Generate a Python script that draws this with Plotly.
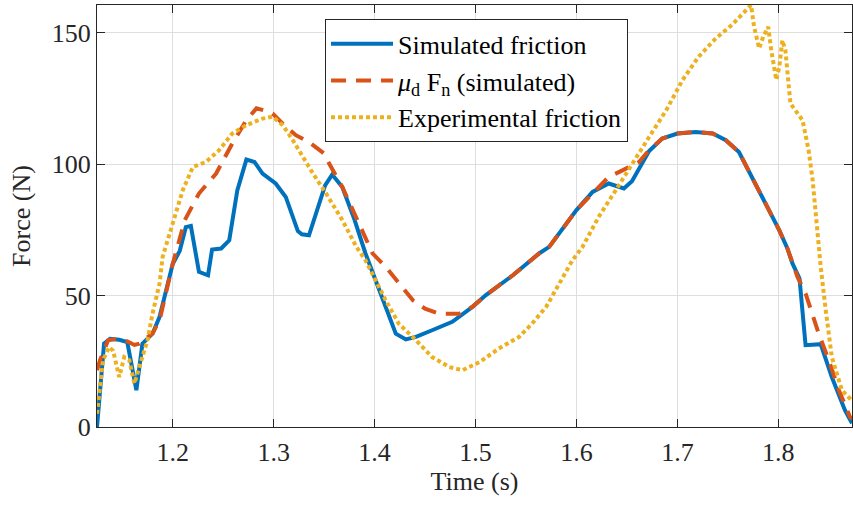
import plotly.graph_objects as go

# Simulated friction
t_sim = [1.125, 1.132, 1.138, 1.147, 1.155, 1.164, 1.170, 1.180, 1.187, 1.193, 1.200, 1.207,
         1.213, 1.218, 1.226, 1.235, 1.239, 1.248, 1.256, 1.264, 1.273, 1.281, 1.289, 1.302,
         1.312, 1.324, 1.328, 1.335, 1.343, 1.351, 1.358, 1.368, 1.380, 1.391, 1.401, 1.421,
         1.431, 1.441, 1.457, 1.477, 1.497, 1.510, 1.537, 1.563, 1.573, 1.600, 1.616, 1.632,
         1.647, 1.655, 1.672, 1.685, 1.700, 1.718, 1.735, 1.748, 1.761, 1.774, 1.788, 1.801,
         1.809, 1.814, 1.821, 1.827, 1.842, 1.853, 1.866, 1.873]
f_sim = [0, 31.7, 33.5, 33.2, 32.3, 14, 31.7, 35.5, 41.9, 50.8, 62, 67,
         76, 76.5, 59, 57.7, 67.5, 67.9, 71, 90, 101.7, 100.8, 96.4, 92.6,
         87.5, 74.5, 73.3, 72.9, 82.4, 91.9, 96, 91.3, 79, 66, 55.8, 35.5,
         33.3, 34.3, 36.8, 40, 45.7, 50.1, 57.7, 66, 68.5, 82.5, 89.4, 92.6,
         90.7, 93.5, 105, 109.7, 111.6, 112.2, 111.6, 109.1, 104.6, 95.1, 84.4, 74.8,
         67.9, 62.2, 56.5, 31.1, 31.5, 19, 6.4, 1.4]

# mu_d * F_n (simulated)
t_mu = [1.125, 1.128, 1.136, 1.145, 1.155, 1.162, 1.167, 1.174, 1.180, 1.187, 1.193, 1.200,
        1.212, 1.226, 1.243, 1.259, 1.273, 1.283, 1.290, 1.299, 1.309, 1.322, 1.335, 1.350,
        1.355, 1.368, 1.385, 1.398, 1.411, 1.425, 1.438, 1.450, 1.464, 1.484, 1.497, 1.510,
        1.537, 1.563, 1.573, 1.600, 1.622, 1.632, 1.645, 1.655, 1.662, 1.672, 1.685, 1.700,
        1.718, 1.735, 1.748, 1.761, 1.774, 1.788, 1.801, 1.809, 1.814, 1.819, 1.827, 1.840,
        1.850, 1.860, 1.871, 1.873]
f_mu = [21.6, 25.4, 33, 33.6, 32.6, 31.2, 31.7, 33.6, 35.6, 40.6, 50.8, 62,
        78.7, 88.8, 96.4, 107.8, 116.7, 121.2, 120.5, 119.2, 115.4, 111, 108.4, 104,
        100.2, 91.3, 77, 66, 60.9, 54, 48.2, 45, 43.1, 43.1, 45.7, 50.1,
        57.7, 66, 68.5, 82.5, 91.3, 95.1, 97.5, 99.6, 100.8, 105.3, 109.7, 111.6,
        112.2, 111.6, 109.1, 104.6, 95.1, 84.4, 74.8, 67.9, 62.2, 57.1, 50.8, 35.5,
        25.4, 14, 3.8, 3]

# Experimental friction
t_exp = [1.125, 1.128, 1.131, 1.137, 1.141, 1.147, 1.152, 1.157, 1.162, 1.169, 1.175, 1.180,
         1.187, 1.190, 1.193, 1.202, 1.210, 1.220, 1.233, 1.246, 1.259, 1.273, 1.289, 1.299,
         1.309, 1.319, 1.326, 1.339, 1.352, 1.368, 1.382, 1.391, 1.411, 1.424, 1.441, 1.457,
         1.474, 1.487, 1.504, 1.523, 1.543, 1.556, 1.570, 1.583, 1.596, 1.606, 1.622, 1.639,
         1.655, 1.672, 1.689, 1.705, 1.721, 1.738, 1.754, 1.773, 1.776, 1.781, 1.785, 1.790,
         1.793, 1.798, 1.801, 1.804, 1.807, 1.812, 1.824, 1.830, 1.834, 1.837, 1.840, 1.842,
         1.847, 1.853, 1.863, 1.873]
f_exp = [5, 14, 25.4, 30.4, 29, 19, 26.6, 25.4, 16.5, 25.4, 33, 43.1,
         54.6, 64.7, 68.5, 81.2, 90.1, 98.9, 100.8, 105.3, 111.6, 114.8, 117.3, 118,
         114.8, 109.1, 104.6, 96.4, 88.8, 78.7, 68.5, 63.4, 48.2, 39.3, 33, 26.6,
         22.8, 21.6, 24.7, 29.8, 34.2, 39.3, 45.7, 54.6, 63.4, 68.5, 79.9, 90.1,
         99.6, 110.3, 120.5, 131.9, 140.8, 147.8, 152.9, 160.5, 152.2, 144, 148.4, 152.2,
         143.3, 132, 137, 147.1, 143.3, 123, 116.7, 105.3, 93.9, 79.9, 67.2, 60.9,
         44.4, 26.6, 14, 10]

x_ticks = [1.2, 1.3, 1.4, 1.5, 1.6, 1.7, 1.8]
x_tick_text = ["1.2", "1.3", "1.4", "1.5", "1.6", "1.7", "1.8"]
y_ticks = [0, 50, 100, 150]
y_tick_text = ["0", "50", "100", "150"]

FONT = "Liberation Serif"
TXT = "#262626"
FS = 26

fig = go.Figure()
fig.add_trace(go.Scatter(x=t_sim, y=f_sim, mode="lines", name="Simulated friction",
                         line=dict(color="#0072BD", width=4)))
fig.add_trace(go.Scatter(x=t_mu, y=f_mu, mode="lines",
                         name="<i>μ</i><sub>d</sub> F<sub>n</sub> (simulated)",
                         line=dict(color="#D95319", width=4, dash="15px,10px")))
fig.add_trace(go.Scatter(x=t_exp, y=f_exp, mode="lines", name="Experimental friction",
                         line=dict(color="#EDB120", width=4, dash="4px,3px")))

axis_common = dict(showline=True, linecolor=TXT, linewidth=1, mirror="ticks",
                   ticks="inside", ticklen=8, tickcolor=TXT, tickwidth=1,
                   showgrid=True, gridcolor="#dedede", gridwidth=1, zeroline=False,
                   automargin=False,
                   tickfont=dict(family=FONT, size=FS, color=TXT))

fig.update_xaxes(range=[1.125, 1.873], tickvals=x_ticks, ticktext=x_tick_text,
                 ticklabelstandoff=2,
                 title=dict(text="Time (s)", font=dict(family=FONT, size=FS, color=TXT), standoff=4),
                 **axis_common)
fig.update_yaxes(range=[0, 160.5], tickvals=y_ticks, ticktext=y_tick_text,
                 title=dict(text="Force (N)", font=dict(family=FONT, size=FS, color=TXT), standoff=13),
                 **axis_common)

fig.update_layout(
    width=853, height=506,
    margin=dict(l=97, r=1, t=5, b=79),
    plot_bgcolor="white", paper_bgcolor="white",
    font=dict(family=FONT, size=FS, color="black"),
    legend=dict(x=0.302, y=0.966, xanchor="left", yanchor="top",
                bgcolor="white", bordercolor="#262626", borderwidth=1,
                font=dict(family=FONT, size=FS, color="black"),
                itemwidth=62, tracegroupgap=0),
    showlegend=True,
)

fig.write_html("out.html", config={"displayModeBar": False},
               post_script="document.body.style.margin='0';document.body.style.overflow='hidden';")
